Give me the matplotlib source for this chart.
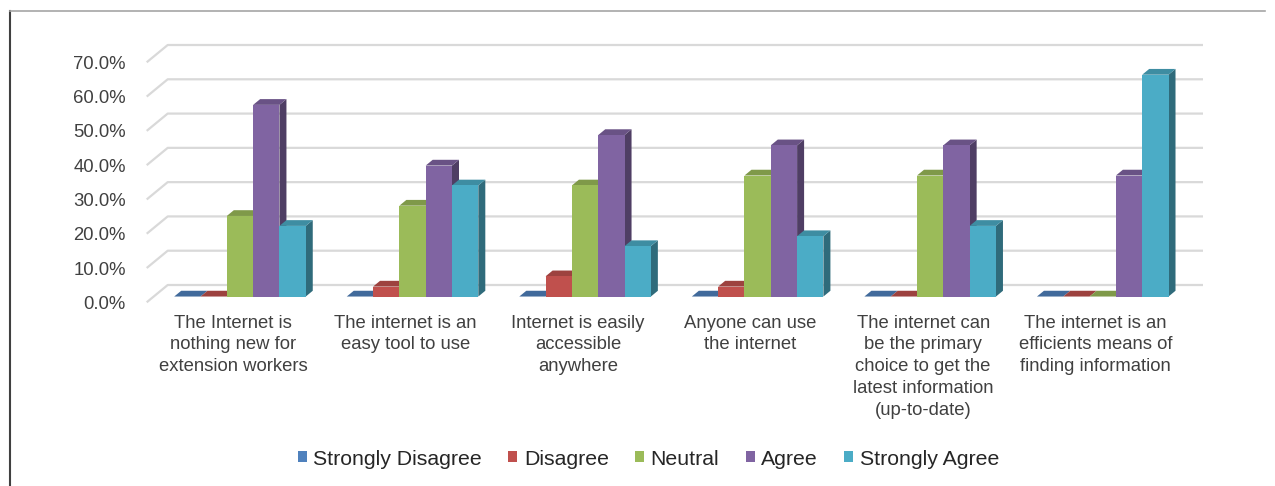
import matplotlib
matplotlib.use("Agg")
import matplotlib.pyplot as plt
from matplotlib.patches import Polygon, Patch
from matplotlib.lines import Line2D
from matplotlib.ticker import PercentFormatter
import numpy as np

plt.rcParams['font.family'] = ['Liberation Sans', 'DejaVu Sans']

# ---- data -------------------------------------------------------------
categories = [
    "The Internet is\nnothing new for\nextension workers",
    "The internet is an\neasy tool to use",
    "Internet is easily\naccessible\nanywhere",
    "Anyone can use\nthe internet",
    "The internet can\nbe the primary\nchoice to get the\nlatest information\n(up-to-date)",
    "The internet is an\nefficients means of\nfinding information",
]
series_names = ["Strongly Disagree", "Disagree", "Neutral", "Agree", "Strongly Agree"]
strongly_disagree = [0.0, 0.0, 0.0, 0.0, 0.0, 0.0]
disagree = [0.0, 0.029, 0.059, 0.029, 0.0, 0.0]
neutral = [0.235, 0.265, 0.324, 0.353, 0.353, 0.0]
agree = [0.559, 0.382, 0.471, 0.441, 0.441, 0.353]
strongly_agree = [0.206, 0.324, 0.147, 0.176, 0.206, 0.647]
y_ticks = [0.0, 0.1, 0.2, 0.3, 0.4, 0.5, 0.6, 0.7]

series_values = [strongly_disagree, disagree, neutral, agree, strongly_agree]
colors = ["#4F81BD", "#C0504D", "#9BBB59", "#8064A2", "#4BACC6"]

# ---- layout / styling ---------------------------------------------------
W, H = 1275, 486
fig = plt.figure(figsize=(W / 100, H / 100), dpi=100)
left_px, right_px, bottom_px, top_px = 146.7, 1182.0, 302.3, 62.3
ax = fig.add_axes([left_px / W, 1 - bottom_px / H,
                   (right_px - left_px) / W, (bottom_px - top_px) / H])
n = len(categories)
ax.set_xlim(0, n)
ax.set_ylim(0, 0.7)

# oblique depth of the floor/back wall, in data units
px_x = (right_px - left_px) / n        # pixels per category
px_y = (bottom_px - top_px) / 0.7      # pixels per unit value
wall_dx = 21.0 / px_x
wall_dy = 17.3 / px_y
# bars sit in the middle third of the depth
bar_ox, bar_oy = wall_dx / 3, wall_dy / 3
bar_dx, bar_dy = wall_dx / 3, wall_dy / 3
bar_w = 0.1525

grid_col = "#D9D9D9"
text_col = "#404040"

# back wall grid lines with their slanted floor edge
for t in y_ticks:
    ax.plot([0, wall_dx, n + wall_dx], [t, t + wall_dy, t + wall_dy],
            color=grid_col, lw=1.6, clip_on=False, zorder=0.5,
            solid_capstyle='butt')


def shade(c, f):
    r, g, b = matplotlib.colors.to_rgb(c)
    return (r * f, g * f, b * f)


idx = np.arange(n)
for j, (vals, col) in enumerate(zip(series_values, colors)):
    vals = np.asarray(vals)
    lefts = idx + 0.5 + bar_ox - 2.5 * bar_w + j * bar_w
    z = 2 + 3 * j
    # front faces
    ax.bar(lefts, vals, width=bar_w, bottom=bar_oy, align='edge',
           color=col, edgecolor='none', zorder=z + 2, clip_on=False)
    for xl, v in zip(lefts, vals):
        xr = xl + bar_w
        yt = bar_oy + v
        side = Polygon([(xr, bar_oy), (xr + bar_dx, bar_oy + bar_dy),
                        (xr + bar_dx, yt + bar_dy), (xr, yt)],
                       closed=True, facecolor=shade(col, 0.62),
                       edgecolor='none', zorder=z, clip_on=False)
        top = Polygon([(xl, yt), (xr, yt), (xr + bar_dx, yt + bar_dy),
                       (xl + bar_dx, yt + bar_dy)],
                      closed=True, facecolor=shade(col, 0.82),
                      edgecolor='none', zorder=z + 1, clip_on=False)
        ax.add_patch(side)
        ax.add_patch(top)

# axes text
for s in ax.spines.values():
    s.set_visible(False)
ax.set_yticks(y_ticks)
ax.yaxis.set_major_formatter(PercentFormatter(1.0, decimals=1))
ax.set_xticks(idx + 0.5)
ax.set_xticklabels(categories)
ax.tick_params(axis='y', length=0, pad=15, labelsize=13.3, labelcolor=text_col)
ax.tick_params(axis='x', length=0, pad=9, labelsize=13.3, labelcolor=text_col)
for lab in ax.get_xticklabels():
    lab.set_linespacing(1.36)

# legend
handles = [Patch(facecolor=c, edgecolor='none') for c in colors]
fig.legend(handles, series_names, loc='center', ncol=5,
           bbox_to_anchor=(648.5 / W, 1 - 459 / H), frameon=False,
           fontsize=15.3, labelcolor='#262626', handlelength=0.42,
           handleheight=0.42, handletextpad=0.3, columnspacing=1.25)

# chart border
fig.add_artist(Line2D([9.5 / W, 9.5 / W], [0, 1 - 11.5 / H],
                      transform=fig.transFigure, color="#404040", lw=1.5))
fig.add_artist(Line2D([9.5 / W, 1265 / W], [1 - 11.5 / H, 1 - 11.5 / H],
                      transform=fig.transFigure, color="#A6A6A6", lw=1.2))

fig.savefig("out.png", dpi=100)
